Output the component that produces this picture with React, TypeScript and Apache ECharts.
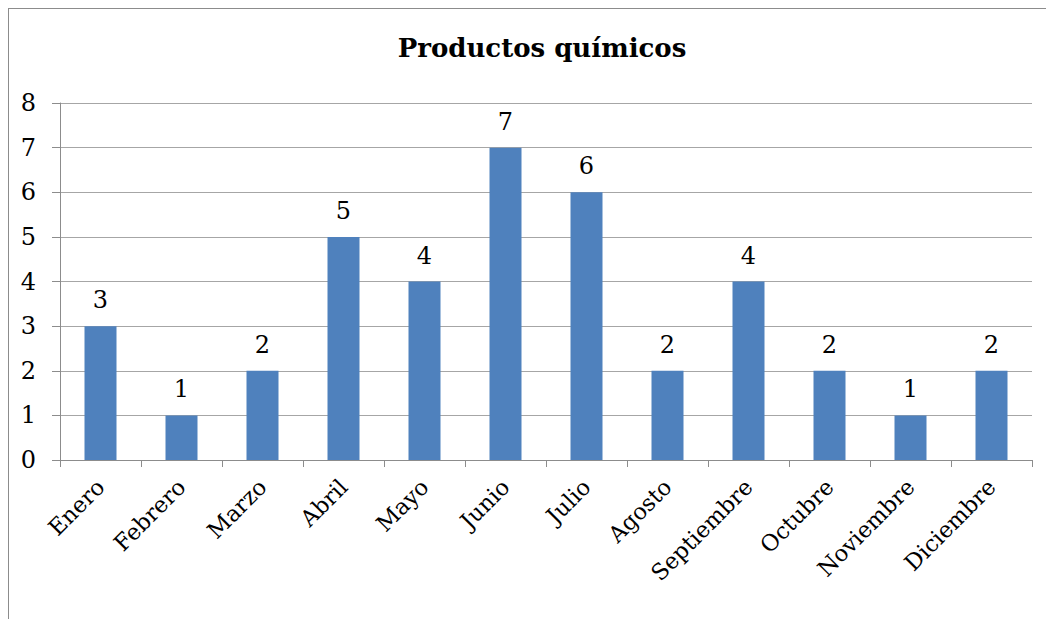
import React, { useEffect, useRef } from "react";
import * as echarts from "echarts";

const categories = ["Enero", "Febrero", "Marzo", "Abril", "Mayo", "Junio", "Julio", "Agosto", "Septiembre", "Octubre", "Noviembre", "Diciembre"];
const values = [3, 1, 2, 5, 4, 7, 6, 2, 4, 2, 1, 2];
const titleText = "Productos químicos";

const FONT = "'DejaVu Serif', serif";

export default function App() {
  const ref = useRef<HTMLDivElement>(null);
  useEffect(() => {
    const chart = echarts.init(ref.current!, null, { renderer: "svg" });
    chart.setOption({
      animation: false,
      backgroundColor: "#ffffff",
      title: {
        text: titleText,
        left: 528,
        top: 21,
        textAlign: "center",
        textStyle: { fontFamily: FONT, fontWeight: "bold", fontSize: 26, color: "#000" },
      },
      grid: { left: 51, right: 22, top: 94, bottom: 159, containLabel: false },
      xAxis: {
        type: "category",
        data: categories,
        axisLine: { lineStyle: { color: "#8c8c8c", width: 1 } },
        axisTick: { show: true, length: 7, alignWithLabel: false, lineStyle: { color: "#8c8c8c" } },
        axisLabel: { rotate: 45, fontFamily: FONT, fontSize: 22.5, color: "#000", margin: 23, interval: 0 },
      },
      yAxis: {
        type: "value",
        min: 0,
        max: 8,
        interval: 1,
        axisLine: { show: true, lineStyle: { color: "#8c8c8c" } },
        axisTick: { show: true, length: 8, lineStyle: { color: "#8c8c8c" } },
        splitLine: { lineStyle: { color: "#a6a6a6", width: 1 } },
        axisLabel: { fontFamily: FONT, fontSize: 24, color: "#000", margin: 24 },
      },
      series: [
        {
          type: "bar",
          data: values,
          barWidth: 32,
          itemStyle: { color: "#4F81BD" },
          label: { show: true, position: "top", distance: 14, fontFamily: FONT, fontSize: 24, color: "#000" },
        },
      ],
    });
    return () => chart.dispose();
  }, []);
  return (
    <div
      ref={ref}
      style={{
        width: 1046,
        height: 611,
        borderTop: "1px solid #8c8c8c",
        borderLeft: "1px solid #8c8c8c",
        boxSizing: "border-box",
      }}
    />
  );
}
